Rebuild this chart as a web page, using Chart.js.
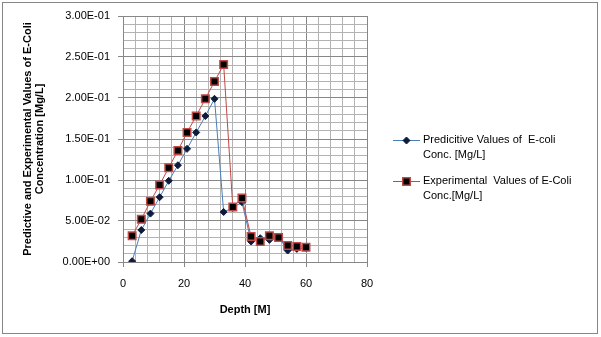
<!DOCTYPE html>
<html>
<head>
<meta charset="utf-8">
<script src="https://cdn.jsdelivr.net/npm/chart.js@4"></script>
<style>
  body { margin: 0; background: #fff; }
  #wrap { position: relative; width: 601px; height: 337px; }
</style>
</head>
<body>
<div id="wrap"><canvas id="chart"></canvas></div>
<script>
const depth = [3, 6, 9, 12, 15, 18, 21, 24, 27, 30, 33, 36, 39, 42, 45, 48, 51, 54, 57, 60];
const predicted = [0.001, 0.039, 0.059, 0.079, 0.099, 0.118, 0.138, 0.158, 0.178, 0.199,
                   0.061, 0.066, 0.073, 0.025, 0.029, 0.027, 0.031, 0.014, 0.016, 0.017];
const experimental = [0.032, 0.052, 0.074, 0.094, 0.115, 0.136, 0.158, 0.178, 0.199, 0.220,
                      0.241, 0.067, 0.078, 0.031, 0.025, 0.032, 0.030, 0.020, 0.019, 0.018];
const legendPred = ['Predicitive Values of  E-coli', 'Conc. [Mg/L]'];
const legendExp = ['Experimental  Values of E-Coli', 'Conc.[Mg/L]'];
const yTitle = ['Predictive and Experimental Values of E-Coli', 'Concentration [Mg/L]'];
const xTitle = 'Depth [M]';

const FONT = '"Liberation Sans", Arial, sans-serif';
const MAJOR = '#878787';
const MINOR = '#b3b3b3';

function isMult(v, step) {
    return Math.abs(v / step - Math.round(v / step)) < 1e-6;
}

function sci(v) {
    const parts = v.toExponential(2).split('e');
    let exp = parts[1];
    const sign = exp[0] === '-' ? '-' : '+';
    exp = exp.replace(/[+-]/, '');
    if (exp.length < 2) exp = '0' + exp;
    return parts[0] + 'E' + sign + exp;
}

const frame = {
    id: 'frame',
    beforeDraw(chart) {
        const c = chart.ctx;
        c.save();
        c.fillStyle = '#fff';
        c.fillRect(0, 0, chart.width, chart.height);
        c.strokeStyle = '#868686';
        c.lineWidth = 1;
        c.strokeRect(2.5, 2.5, 595, 331);
        c.restore();
    }
};

const sideLegend = {
    id: 'sideLegend',
    afterDraw(chart) {
        const c = chart.ctx;
        const entries = [
            { ds: chart.data.datasets[0], lines: legendPred, y: 140 },
            { ds: chart.data.datasets[1], lines: legendExp, y: 181 }
        ];
        c.save();
        entries.forEach(e => {
            c.strokeStyle = e.ds.borderColor;
            c.lineWidth = 1;
            c.beginPath();
            c.moveTo(393, e.y + 0.5);
            c.lineTo(420, e.y + 0.5);
            c.stroke();
            c.fillStyle = e.ds.pointBackgroundColor;
            c.strokeStyle = e.ds.pointBorderColor;
            c.lineWidth = e.ds.pointBorderWidth;
            Chart.helpers.drawPoint(c, {
                pointStyle: e.ds.pointStyle,
                radius: e.ds.pointRadius,
                rotation: 0,
                borderWidth: e.ds.pointBorderWidth
            }, 406.5, e.y + 0.5);
            c.fillStyle = '#000';
            c.font = '11px ' + FONT;
            c.textBaseline = 'middle';
            c.textAlign = 'left';
            e.lines.forEach((t, i) => c.fillText(t, 423, e.y + i * 15));
        });
        c.restore();
    }
};

const ctx = document.getElementById('chart').getContext('2d');
const chart = new Chart(ctx, {
    type: 'line',
    data: {
        datasets: [{
            label: legendPred.join(' '),
            data: depth.map((d, i) => ({ x: d, y: predicted[i] })),
            borderColor: '#4A7EBB',
            borderWidth: 1,
            pointStyle: 'rectRot',
            pointRadius: 3.5,
            pointBackgroundColor: '#0d1c3c',
            pointBorderColor: '#0d1c3c',
            pointBorderWidth: 1,
            fill: false,
            order: 1
        }, {
            label: legendExp.join(' '),
            data: depth.map((d, i) => ({ x: d, y: experimental[i] })),
            borderColor: '#BE4B48',
            borderWidth: 1,
            pointStyle: 'rect',
            pointRadius: 5.3,
            pointBackgroundColor: '#000000',
            pointBorderColor: '#BE4B48',
            pointBorderWidth: 1.5,
            fill: false,
            order: 0
        }]
    },
    options: {
        responsive: true,
        maintainAspectRatio: false,
        animation: false,
        layout: { padding: { left: 0, right: 234, top: 16, bottom: 0 } },
        plugins: {
            legend: { display: false },
            tooltip: { enabled: false }
        },
        scales: {
            x: {
                type: 'linear',
                min: 0,
                max: 80,
                afterFit: s => { s.height = 75; },
                border: { color: MAJOR },
                grid: {
                    color: c => isMult(c.tick.value, 20) ? MAJOR : MINOR,
                    tickColor: c => isMult(c.tick.value, 20) ? MAJOR : 'rgba(0,0,0,0)',
                    tickLength: 5
                },
                ticks: {
                    stepSize: 4,
                    autoSkip: false,
                    maxRotation: 0,
                    padding: 10,
                    color: '#000',
                    font: { family: FONT, size: 11 },
                    callback: v => isMult(v, 20) ? String(v) : ''
                },
                title: {
                    display: true,
                    text: xTitle,
                    color: '#000',
                    font: { family: FONT, size: 11, weight: 'bold' },
                    padding: { top: 0, bottom: 20 }
                }
            },
            y: {
                min: 0,
                max: 0.3,
                afterFit: s => { s.width = 123; },
                border: { color: MAJOR },
                grid: {
                    color: c => isMult(c.tick.value, 0.05) ? MAJOR : MINOR,
                    tickColor: c => isMult(c.tick.value, 0.05) ? MAJOR : 'rgba(0,0,0,0)',
                    tickLength: 5
                },
                ticks: {
                    stepSize: 0.01,
                    autoSkip: false,
                    padding: 8,
                    color: '#000',
                    font: { family: FONT, size: 11 },
                    callback: v => isMult(v, 0.05) ? sci(v) : ''
                },
                title: {
                    display: true,
                    text: yTitle,
                    color: '#000',
                    font: { family: FONT, size: 11, weight: 'bold', lineHeight: 1.1 },
                    padding: { top: 22, bottom: 0 }
                }
            }
        }
    },
    plugins: [frame, sideLegend]
});
</script>
</body>
</html>
